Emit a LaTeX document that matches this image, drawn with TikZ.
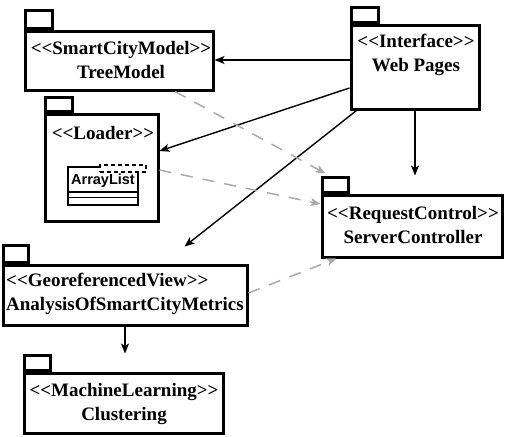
\documentclass[tikz,border=0pt]{standalone}
\usepackage{fontspec}
\setmainfont{Liberation Serif}[Ligatures=TeXOff]
\newfontfamily\clsfont{Liberation Sans}
\usetikzlibrary{arrows.meta}
\definecolor{deplinegray}{RGB}{170,170,170}
\tikzset{
  pkgbody/.style={draw=black, line width=3pt, fill=white, inner sep=0pt},
  pkgtab/.style={draw=black, line width=3pt, fill=white, inner sep=0pt, anchor=south west, minimum height=15pt},
  pkgtext/.style={font=\bfseries\fontsize{19}{24}\selectfont, align=center, inner sep=0pt},
  arr/.style={draw=black, line width=1.4pt, -{Stealth[length=10pt,width=8pt,inset=2.5pt]}},
  deparr/.style={draw=deplinegray, line width=1.5pt, dash pattern=on 12pt off 10pt, -{Stealth[length=10pt,width=8pt,inset=2.5pt]}},
  clsbox/.style={draw=black, line width=1.8pt, fill=white, inner sep=0pt},
}
\begin{document}
\begin{tikzpicture}[x=1pt,y=-1pt]
\useasboundingbox (0,0) rectangle (508,436);
% packages
\node[pkgbody, minimum width=188pt, minimum height=58pt] (scm) at (119,61) {};
\node[pkgtab, minimum width=27pt, minimum height=18pt] (scmtab) at (scm.north west) {};
\node[pkgbody, minimum width=128pt, minimum height=83pt] (web) at (415,67.5) {};
\node[pkgtab, minimum width=27pt] (webtab) at (web.north west) {};
\node[pkgbody, minimum width=113pt, minimum height=107pt] (loader) at (101.5,167.5) {};
\node[pkgtab, minimum width=27pt, minimum height=14pt] (loadertab) at (loader.north west) {};
\node[pkgbody, minimum width=180pt, minimum height=62pt] (req) at (412,226) {};
\node[pkgtab, minimum width=26pt] (reqtab) at (req.north west) {};
\node[pkgbody, minimum width=244pt, minimum height=60pt] (geo) at (125,295) {};
\node[pkgtab, minimum width=25pt, minimum height=17pt] (geotab) at (geo.north west) {};
\node[pkgbody, minimum width=199pt, minimum height=60pt] (ml) at (123.5,403) {};
\node[pkgtab, minimum width=26pt] (mltab) at (ml.north west) {};
% texts
\node[pkgtext] (scmtxt) at (121,60) {<<SmartCityModel>>\\TreeModel};
\node[pkgtext] (webtxt) at (416,55) {<<Interface>>\\Web Pages};
\node[pkgtext] (loadertxt) at (103,133) {<<Loader>>};
\node[pkgtext] (reqtxt) at (413,225) {<<RequestControl>>\\ServerController};
\node[pkgtext, align=left, anchor=west] (geotxt) at (6,293.5) {<<GeoreferencedView>>\\AnalysisOfSmartCityMetrics};
\node[pkgtext] (mltxt) at (124,403.5) {<<MachineLearning>>\\Clustering};
% ArrayList class
\node[clsbox, minimum width=70pt, minimum height=38pt] (cls) at (103,186) {};
\node[inner sep=0pt, font=\clsfont\bfseries\fontsize{14.5}{16}\selectfont] (clstxt) at (103,180.5) {ArrayList};
\draw[line width=1.8pt] (cls.west |- 0,192) coordinate (c1) -- (c1 -| cls.east);
\draw[line width=1.8pt] (cls.west |- 0,197.5) coordinate (c2) -- (c2 -| cls.east);
\node[draw=black, line width=1.2pt, dash pattern=on 4pt off 3pt, fill=white, inner sep=0pt, minimum width=46pt, minimum height=7pt] (tmpl) at (123,168.5) {};
% connectors
\coordinate (w1) at ([yshift=7.5pt]web.west);
\draw[arr] (w1) -- (w1 -| scm.east);
\draw[arr] ([yshift=-20.5pt]web.west) -- ([yshift=16.5pt]loader.east);
\draw[arr] (web.south) -- (web.south |- reqtab.north);
\draw[arr] ([xshift=7pt]web.south west) -- ([shift={(183pt,17pt)}]geo.north west);
\draw[arr] (geo.south) -- (geo.south |- mltab.north);
\draw[deparr] ([xshift=56pt]scm.south) -- ([shift={(5pt,2pt)}]reqtab.north west);
\draw[deparr] ([yshift=-2.5pt]loader.east) -- ([yshift=22pt]req.west);
\draw[deparr] ([yshift=2pt]geo.east) -- ([xshift=16pt]req.south west);
\end{tikzpicture}
\end{document}
